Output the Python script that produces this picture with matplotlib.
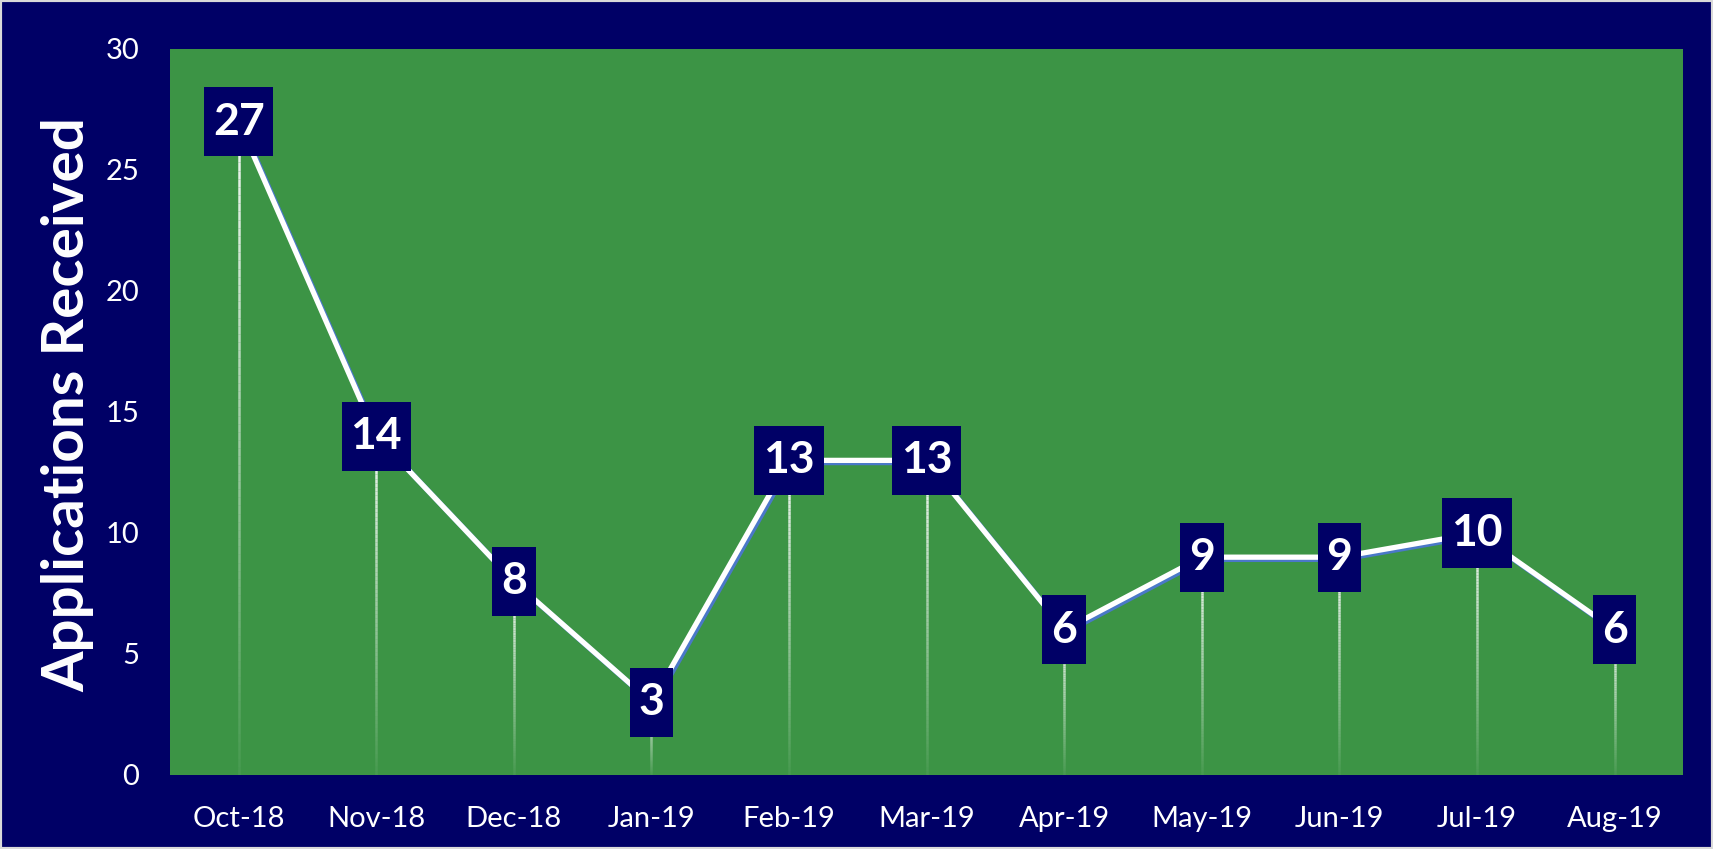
import numpy as np
import matplotlib
matplotlib.use("Agg")
import matplotlib.pyplot as plt
import matplotlib.patheffects as pe
from matplotlib.collections import LineCollection
from matplotlib.patches import Rectangle
from matplotlib.path import Path

# Monthly applications
months = ['Oct-18', 'Nov-18', 'Dec-18', 'Jan-19', 'Feb-19', 'Mar-19',
          'Apr-19', 'May-19', 'Jun-19', 'Jul-19', 'Aug-19']
applications = [27, 14, 8, 3, 13, 13, 6, 9, 9, 10, 6]
y_ticks = [0, 5, 10, 15, 20, 25, 30]

NAVY = '#000066'
GREEN = '#3C9445'
SHADOW = '#4A78C8'

plt.rcParams['font.family'] = ['Lato', 'DejaVu Sans']


def tall_box(x0, y0, width, height, mutation_size):
    # square label box, padded more top/bottom than left/right
    px = 0.2 * mutation_size
    py = 0.33 * mutation_size
    x0, x1 = x0 - px, x0 + width + px
    y0, y1 = y0 - py, y0 + height + py
    return Path([(x0, y0), (x1, y0), (x1, y1), (x0, y1), (x0, y0)],
                closed=True)


fig = plt.figure(figsize=(17.13, 8.49), dpi=100, facecolor=NAVY)
ax = fig.add_axes([0.0992, 0.0872, 0.9827 - 0.0992, 0.9423 - 0.0872])
ax.set_facecolor(GREEN)

x = np.arange(len(months))

# fading drop lines from each point down to zero
segs, cols = [], []
n = 80
for xi, v in zip(x, applications):
    edges = np.linspace(0, v, n + 1)
    for k in range(n):
        segs.append([(xi, edges[k]), (xi, edges[k + 1])])
        t = (k + 0.5) / n
        cols.append((1, 1, 1, 0.05 + 0.9 * t))
ax.add_collection(LineCollection(segs, colors=cols, linewidths=1.8, zorder=2))

ax.plot(x, applications, color='white', lw=3.8, solid_joinstyle='round', zorder=3,
        path_effects=[pe.SimpleLineShadow(offset=(1.6, -1.6), shadow_color=SHADOW, alpha=1.0),
                      pe.Normal()])

for xi, v in zip(x, applications):
    ax.text(xi, v, str(v), ha='center', va='center', color='white', fontsize=32,
            fontweight='bold', zorder=5,
            bbox=dict(boxstyle=tall_box, fc=NAVY, ec='none'))

ax.set_xlim(-0.5, len(months) - 0.5)
ax.set_ylim(0, 30)
ax.set_xticks(x)
ax.set_xticklabels(months)
ax.set_yticks(y_ticks)
ax.tick_params(colors='white', labelsize=21, length=0, pad=22)
for s in ax.spines.values():
    s.set_visible(False)

ax.set_ylabel('Applications Received', color='white', fontsize=42, fontweight='bold')
ax.yaxis.set_label_coords(-0.050, 0.51)

# thin light frame round the whole figure
fig.patches.append(Rectangle((0, 0), 1, 1, transform=fig.transFigure, fill=False,
                             ec='#D9D9D9', lw=3, zorder=10))

fig.savefig('out.png', dpi=100, facecolor=NAVY)
